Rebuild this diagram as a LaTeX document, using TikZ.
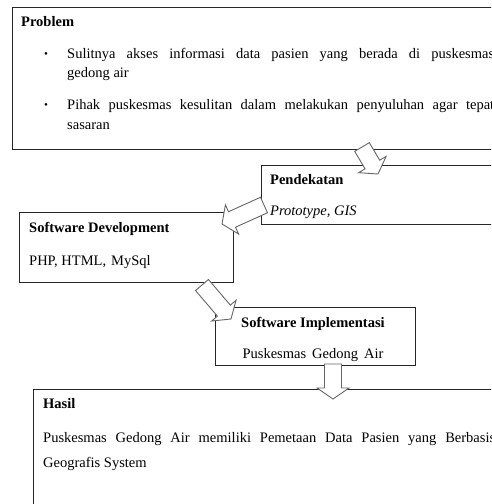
\documentclass[tikz,border=0pt]{standalone}
\usepackage{fontspec}
\setmainfont{Liberation Serif}
\usetikzlibrary{calc}
\tikzset{
  box/.style={draw=black!85, line width=1pt, fill=white},
  txt/.style={anchor=base west, inner sep=0pt, font=\fontsize{14.5}{18}\selectfont},
  ttl/.style={anchor=base west, inner sep=0pt, font=\fontsize{14.5}{18}\selectfont\bfseries},
  bul/.style={anchor=base, inner sep=0pt, font=\fontsize{11}{12}\selectfont},
  barrow/.style={draw=black!60, fill=white, line width=0.9pt, line join=miter},
}
% #1 name, #2 tail, #3 tip
\newcommand\blockarrow[3]{%
  \coordinate (#1hb) at ($(#3)!11pt!(#2)$);
  \draw[barrow] ($(#2)!8.5pt!90:(#3)$) -- ($(#1hb)!8.5pt!-90:(#2)$) -- ($(#1hb)!16pt!-90:(#2)$) -- (#3)
    -- ($(#1hb)!16pt!90:(#2)$) -- ($(#1hb)!8.5pt!90:(#2)$) -- ($(#2)!8.5pt!-90:(#3)$) -- cycle;
}
\begin{document}
\begin{tikzpicture}[x=1pt,y=-1pt]
\useasboundingbox (0,0) rectangle (491,504);
\clip (0,0) rectangle (491,504);
\fill[white] (0,0) rectangle (491,504);
% boxes
\draw[box] (12,7) rectangle (530,149);
\draw[box] (261,165) rectangle (530,224);
\draw[box] (19,212) rectangle (233,282);
\draw[box] (215,307) rectangle (415,365);
\draw[box] (33,389) rectangle (530,540);
% Problem
\node[ttl] (ptitle) at (21,26) {Problem};
\node[bul] (pb1) at (46,57) {\textbullet};
\node[txt] (pl1) at (67,58) {\makebox[427pt][s]{Sulitnya akses informasi data pasien yang berada di puskesmas}};
\node[txt] (pl2) at (67,77) {gedong air};
\node[bul] (pb2) at (46,108) {\textbullet};
\node[txt] (pl3) at (67,109) {\makebox[427pt][s]{Pihak puskesmas kesulitan dalam melakukan penyuluhan agar tepat}};
\node[txt] (pl4) at (67,129) {sasaran};
% Pendekatan
\node[ttl] (dtitle) at (270,184) {Pendekatan};
\node[txt] (dl1) at (270,215) {\itshape Prototype, GIS};
% Software Development
\node[ttl] (stitle) at (29,232) {Software Development};
\node[txt] (sl1) at (29,265) {PHP, HTML,\hspace{5pt}MySql};
% Software Implementasi
\node[ttl, anchor=base] (ititle) at (313,327) {Software Implementasi};
\node[txt, anchor=base] (il1) at (313,358) {Puskesmas\hspace{6pt}Gedong\hspace{6pt}Air};
% Hasil
\node[ttl] (htitle) at (43,408) {Hasil};
\node[txt] (hl1) at (43,442) {\makebox[452pt][s]{Puskesmas Gedong Air memiliki Pemetaan Data Pasien yang Berbasis}};
\node[txt] (hl2) at (43,467) {Geografis System};
% block arrows
\coordinate (a1t) at (362,147); \coordinate (a1h) at (378,174);
\coordinate (a2t) at (264,205); \coordinate (a2h) at (222,224);
\coordinate (a3t) at (202,285); \coordinate (a3h) at (231,319);
\coordinate (a4t) at (333,364); \coordinate (a4h) at (333,399);
\blockarrow{a1}{a1t}{a1h}
\blockarrow{a2}{a2t}{a2h}
\blockarrow{a3}{a3t}{a3h}
\blockarrow{a4}{a4t}{a4h}
\end{tikzpicture}
\end{document}
